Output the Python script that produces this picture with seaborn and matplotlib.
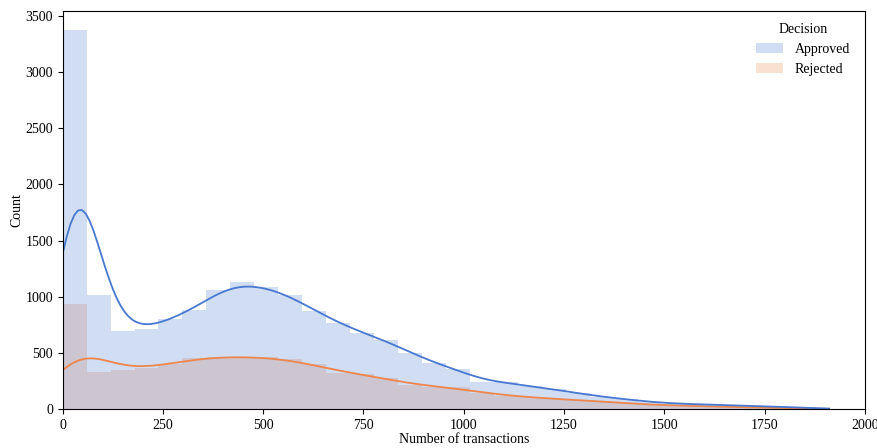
import numpy as np
import pandas as pd
import matplotlib
matplotlib.use("Agg")
import matplotlib.pyplot as plt
import seaborn as sns

# ---- data ----
decisions = ["Approved", "Rejected"]
x_max = 1911
n_bins = 32
approved_counts = [3375, 1017, 699, 712, 800, 883, 1061, 1135, 1085, 1017, 877, 770,
                   676, 617, 504, 409, 356, 246, 240, 207, 178, 142, 112, 89,
                   65, 50, 45, 38, 32, 25, 18, 10]
rejected_counts = [936, 329, 350, 365, 400, 459, 468, 468, 465, 445, 400, 326,
                   314, 275, 216, 201, 196, 142, 121, 107, 92, 83, 68, 53,
                   40, 33, 28, 23, 18, 14, 10, 6]
x_ticks = [0, 250, 500, 750, 1000, 1250, 1500, 1750, 2000]
y_ticks = [0, 500, 1000, 1500, 2000, 2500, 3000, 3500]

edges = np.linspace(0, x_max, n_bins + 1)
centers = (edges[:-1] + edges[1:]) / 2

plt.rcParams["font.family"] = ["Liberation Serif", "DejaVu Serif"]
plt.rcParams["font.size"] = 10

colors = {"Approved": "#4878d0", "Rejected": "#ee854a"}
bw = {"Approved": 0.24, "Rejected": 0.33}
counts = {"Approved": approved_counts, "Rejected": rejected_counts}

fig = plt.figure(figsize=(8.78, 4.48), dpi=100)
ax = fig.add_axes([0.0714, 0.0864, 0.9136, 0.8896])

# draw Rejected first so Approved sits on top (seaborn's layering order)
for name in ["Rejected", "Approved"]:
    df = pd.DataFrame({"x": centers, "w": counts[name]})
    sns.histplot(data=df, x="x", weights="w", bins=n_bins, binrange=(0, x_max),
                 kde=True,
                 kde_kws=dict(bw_adjust=bw[name], cut=3, clip=(0, x_max)),
                 element="step", color=colors[name], alpha=0.25, linewidth=0,
                 line_kws=dict(linewidth=1.3), label=name, ax=ax)

ax.set_xlim(0, 2000)
ax.set_xticks(x_ticks)
ax.set_yticks(y_ticks)
ax.set_xlabel("Number of transactions", labelpad=1)
ax.set_ylabel("Count", labelpad=1.5)

handles, labels = ax.get_legend_handles_labels()
order = [labels.index(d) for d in decisions]
ax.legend([handles[i] for i in order], [labels[i] for i in order],
          title="Decision", frameon=False, loc="upper right",
          bbox_to_anchor=(0.997, 1.0))

fig.savefig("out.png", dpi=100)
